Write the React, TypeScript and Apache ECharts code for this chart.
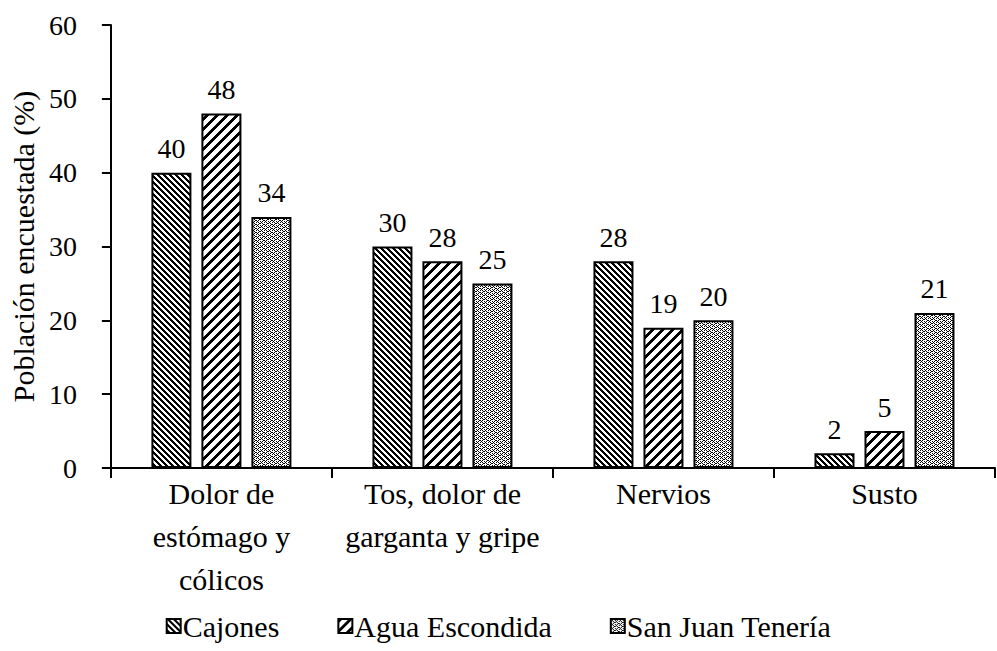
import React, { useEffect, useRef } from "react";
import * as echarts from "echarts";

const categories = [
  "Dolor de\nestómago y\ncólicos",
  "Tos, dolor de\ngarganta y gripe",
  "Nervios",
  "Susto",
];
const seriesNames = ["Cajones", "Agua Escondida", "San Juan Tenería"];
const cajones = [40, 30, 28, 2];
const aguaEscondida = [48, 28, 19, 5];
const sanJuan = [34, 25, 20, 21];
const yTicks = { min: 0, max: 60, interval: 10 };

function makePattern(size: number, fn: (x: number, y: number) => boolean) {
  const c = document.createElement("canvas");
  c.width = size;
  c.height = size;
  const ctx = c.getContext("2d")!;
  ctx.fillStyle = "#ffffff";
  ctx.fillRect(0, 0, size, size);
  ctx.fillStyle = "#000000";
  for (let x = 0; x < size; x++) {
    for (let y = 0; y < size; y++) {
      if (fn(x, y)) ctx.fillRect(x, y, 1, 1);
    }
  }
  return c;
}

export default function App() {
  const ref = useRef<HTMLDivElement>(null);
  useEffect(() => {
    if (!ref.current) return;
    const chart = echarts.init(ref.current, undefined, { renderer: "svg" });
    const p1 = makePattern(6, (x, y) => (((x - y) % 6) + 6) % 6 < 3);
    const p2 = makePattern(10, (x, y) => (x + y) % 10 < 4);
    const p3 = makePattern(8, (x, y) => {
      const v = x < 4 ? x - y : 7 - x - y;
      const m = ((v % 4) + 4) % 4;
      return m === 0 || (m === 2 && x % 2 === 0);
    });
    const pats = [p1, p2, p3];
    const font = "Liberation Serif, Times New Roman, serif";
    const fs = 28;
    const fsText = 30;
    const datas = [cajones, aguaEscondida, sanJuan];
    chart.setOption({
      animation: false,
      textStyle: { fontFamily: font, color: "#000" },
      grid: { left: 110, right: 2, top: 25, bottom: 183, containLabel: false },
      legend: {
        bottom: 5,
        left: "center",
        itemWidth: 14,
        itemHeight: 14,
        itemGap: 58,
        icon: "rect",
        textStyle: { fontFamily: font, fontSize: fsText, color: "#000", padding: [0, 0, 0, -3] },
        data: seriesNames,
      },
      xAxis: {
        type: "category",
        data: categories,
        axisLine: { lineStyle: { color: "#000", width: 2 } },
        axisTick: { show: true, length: 10, lineStyle: { color: "#000", width: 2 } },
        axisLabel: {
          fontFamily: font,
          fontSize: fsText,
          color: "#000",
          lineHeight: 43,
          margin: 4,
          interval: 0,
        },
      },
      yAxis: {
        type: "value",
        min: yTicks.min,
        max: yTicks.max,
        interval: yTicks.interval,
        name: "Población encuestada (%)",
        nameLocation: "middle",
        nameGap: 68,
        nameTextStyle: { fontFamily: font, fontSize: fsText, color: "#000" },
        axisLine: { show: true, lineStyle: { color: "#000", width: 2 } },
        axisTick: { show: true, length: 9, lineStyle: { color: "#000", width: 2 } },
        splitLine: { show: false },
        axisLabel: { fontFamily: font, fontSize: fs, color: "#000", margin: 34 },
      },
      series: seriesNames.map((name, i) => ({
        name,
        type: "bar",
        data: datas[i],
        barWidth: 40,
        barGap: "25%",
        itemStyle: {
          color: { image: pats[i], repeat: "repeat" },
          borderColor: "#000",
          borderWidth: 2,
        },
        label: {
          show: true,
          position: "top",
          distance: 10,
          fontFamily: font,
          fontSize: fs,
          color: "#000",
        },
      })),
    });
    return () => chart.dispose();
  }, []);
  return (
    <div
      ref={ref}
      style={{ position: "fixed", left: 0, top: 0, width: 997, height: 651, background: "#fff" }}
    />
  );
}
